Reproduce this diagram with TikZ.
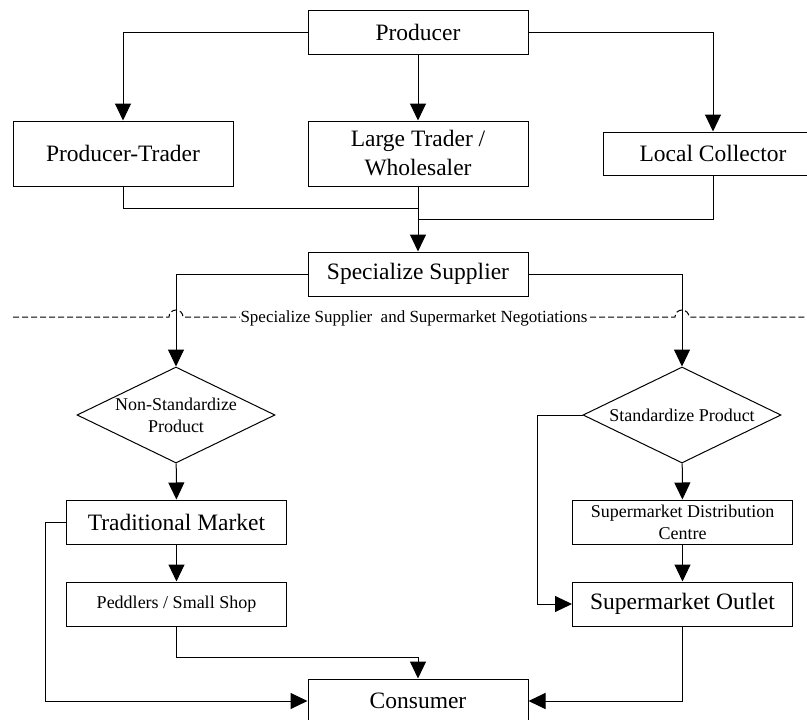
\documentclass[tikz,border=0pt]{standalone}
\usepackage{fontspec}
\setmainfont{Liberation Serif}
\usetikzlibrary{arrows.meta,shapes.geometric}
\tikzstyle{bx}=[shape=rectangle,
                draw=black,
                line width=1pt,
                inner sep=0pt,
                minimum width=220pt,
                minimum height=44pt,
                align=center,
                font=\fontsize{23.5}{29}\selectfont]
\tikzstyle{sbx}=[bx,
                font=\fontsize{18}{22}\selectfont]
\tikzstyle{dc}=[shape=diamond,
                draw=black,
                line width=1pt,
                inner sep=0pt,
                aspect=2.06,
                minimum width=198pt,
                minimum height=96pt,
                align=center,
                font=\fontsize{18}{22}\selectfont]

\begin{document}
\begin{tikzpicture}[x=1pt,y=-1pt,>={Triangle[width=16pt,length=17pt]},line width=1pt]
\useasboundingbox (0,0) rectangle (807,720);

% supply side
\node[bx] (prod) at (418,32)  {Producer};
\node[bx,minimum height=65pt] (pt) at (123,153.5)  {Producer-Trader};
\node[bx,minimum height=65pt] (lt) at (418,153.5)  {Large Trader /\\Wholesaler};
\node[bx,minimum height=43pt] (lc) at (713,153.5)  {Local Collector};
\node[bx] (ss) at (418,274)  {Specialize Supplier};

% negotiation line
\draw[dash pattern=on 6pt off 3pt,line width=1pt] (13,317) -- (169,317)
   arc[start angle=180,end angle=360,radius=7] -- (675,317)
   arc[start angle=180,end angle=360,radius=7] -- (807,317);
\node[fill=white,inner sep=1pt,font=\fontsize{17}{20}\selectfont] (neg) at (414,318)
   {Specialize Supplier\ \ and Supermarket Negotiations};

% retail side
\node[dc] (d1) at (176,415)  {Non-Standardize\\Product};
\node[dc] (d2) at (682,415)  {Standardize Product};
\node[bx] (tm) at (176.5,522)  {Traditional Market};
\node[sbx] (ps) at (176.5,604)  {Peddlers / Small Shop};
\node[sbx] (dcen) at (682.5,522)  {Supermarket Distribution\\Centre};
\node[bx] (so) at (682.5,604)  {Supermarket Outlet};
\node[bx] (con) at (418,701)  {Consumer};

\coordinate (j1) at (418,208);
\coordinate (j2) at (418,219);

% paths
\draw[->] (prod.west) -| (pt.north);
\path[->] (prod) edge (lt);
\draw[->] (prod.east) -| (lc.north);
\draw (pt.south) |- (j1);
\draw (lc.south) |- (j2);
\path[->] (lt) edge (ss);

\draw[->] (ss.west) -| (d1.north);
\draw[->] (ss.east) -| (d2.north);

\path[->] (d1) edge (tm);
\path[->] (tm) edge (ps);
\draw[->] (tm.west) -- ++(-21,0) |- (con.west);
\draw[->] (ps.south) -- ++(0,31) -| (con.north);

\path[->] (d2) edge (dcen);
\path[->] (dcen) edge (so);
\draw[->] (d2.west) -- ++(-45,0) |- (so.west);
\draw[->] (so.south) |- (con.east);

\end{tikzpicture}
\end{document}
